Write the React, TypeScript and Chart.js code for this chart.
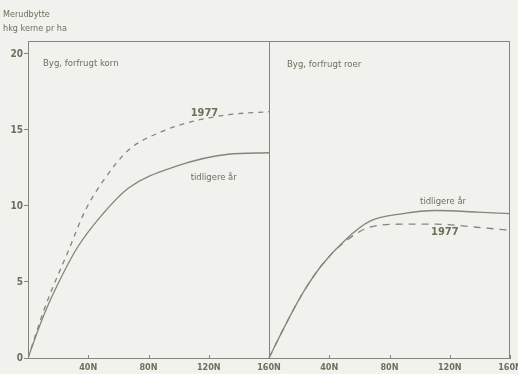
import React, { useEffect, useRef } from "react";
import { Chart, registerables } from "chart.js";

Chart.register(...registerables);

// Nitrogen levels (kg N / ha) and yield increase (hkg grain / ha)
const leftPriorN = [0, 10, 20, 33, 49, 67, 98, 133, 160];
const leftPriorY = [0, 2.7, 4.9, 7.3, 9.4, 11.2, 12.6, 13.4, 13.5];
const left1977N = [0, 11.5, 27, 38, 51, 67, 89, 107, 133, 160];
const left1977Y = [0, 3.4, 7.1, 9.7, 11.8, 13.7, 14.9, 15.5, 16.0, 16.2];
const rightPriorN = [0, 9, 22, 35, 51, 67, 89, 111, 138, 160];
const rightPriorY = [0, 1.8, 4.2, 6.1, 7.8, 9.0, 9.5, 9.7, 9.6, 9.5];
const right1977N = [0, 9, 22, 35, 51, 67, 89, 111, 138, 160];
const right1977Y = [0, 1.8, 4.2, 6.1, 7.7, 8.6, 8.8, 8.8, 8.6, 8.4];

const xTickValues = [40, 80, 120, 160, 200, 240, 280, 320];
const xTickLabels = ["40N", "80N", "120N", "160N", "40N", "80N", "120N", "160N"];
const yTickValues = [0, 5, 10, 15, 20];
const panelTitles = ["Byg, forfrugt korn", "Byg, forfrugt roer"];
const yTitle = ["Merudbytte", "hkg kerne pr ha"];
const seriesNames = ["tidligere år", "1977"];

const PANEL_WIDTH = 160;
const Y_MAX = 20.85;
const INK = "#6f6f5c";
const LINE = "#85857a";
const FONT = "'DejaVu Sans Condensed', 'DejaVu Sans', sans-serif";

const toPoints = (ns: number[], ys: number[], offset: number) =>
  ns.map((n, i) => ({ x: n + offset, y: ys[i] }));

const framePlugin = {
  id: "frame",
  afterDraw(chart: any) {
    const { ctx, chartArea, scales } = chart;
    const { left, right, top, bottom } = chartArea;
    const xs = scales.x;
    const ys = scales.y;
    ctx.save();
    ctx.strokeStyle = LINE;
    ctx.lineWidth = 1;
    ctx.beginPath();
    ctx.moveTo(left, top + 0.5);
    ctx.lineTo(right, top + 0.5);
    ctx.moveTo(right - 0.5, top);
    ctx.lineTo(right - 0.5, bottom);
    const mid = Math.round(xs.getPixelForValue(PANEL_WIDTH)) + 0.5;
    ctx.moveTo(mid, top);
    ctx.lineTo(mid, bottom);
    xTickValues.forEach((v) => {
      const px = Math.round(xs.getPixelForValue(v)) + 0.5;
      ctx.moveTo(px, bottom);
      ctx.lineTo(px, bottom - 3);
    });
    ctx.stroke();

    ctx.fillStyle = INK;
    ctx.font = `9px ${FONT}`;
    ctx.textBaseline = "middle";
    ctx.textAlign = "left";
    ctx.fillText(yTitle[0], 3, 15);
    ctx.fillText(yTitle[1], 3, 29);
    ctx.font = `9.5px ${FONT}`;
    ctx.fillText(panelTitles[0], 43, 64);
    ctx.fillText(panelTitles[1], 287, 65);

    const label = (text: string, xv: number, yv: number, bold: boolean) => {
      ctx.font = bold ? `bold 11px ${FONT}` : `9.4px ${FONT}`;
      ctx.fillText(text, xs.getPixelForValue(xv), ys.getPixelForValue(yv));
    };
    label(seriesNames[1], 108, 16.1, true);
    label(seriesNames[0], 108, 11.9, false);
    label(seriesNames[0], PANEL_WIDTH + 100.3, 10.26, false);
    label(seriesNames[1], PANEL_WIDTH + 107.6, 8.29, true);
    ctx.restore();
  },
};

export default function App() {
  const ref = useRef<HTMLCanvasElement | null>(null);

  useEffect(() => {
    document.body.style.background = "#f1f1ee";
    if (!ref.current) return;
    const common = {
      borderColor: LINE,
      borderWidth: 1.3,
      pointRadius: 0,
      fill: false,
      cubicInterpolationMode: "monotone" as const,
    };
    const chart = new Chart(ref.current, {
      type: "line",
      data: {
        datasets: [
          { ...common, label: seriesNames[0], data: toPoints(leftPriorN, leftPriorY, 0) },
          { ...common, label: seriesNames[1], data: toPoints(left1977N, left1977Y, 0), borderDash: [5, 5] },
          { ...common, label: seriesNames[0], data: toPoints(rightPriorN, rightPriorY, PANEL_WIDTH) },
          { ...common, label: seriesNames[1], data: toPoints(right1977N, right1977Y, PANEL_WIDTH), borderDash: [7, 6] },
        ],
      },
      options: {
        animation: false,
        responsive: false,
        maintainAspectRatio: false,
        layout: { padding: { top: 41, right: 8, left: 0, bottom: 0 } },
        plugins: { legend: { display: false }, tooltip: { enabled: false } },
        scales: {
          x: {
            type: "linear",
            min: 0,
            max: 2 * PANEL_WIDTH,
            afterBuildTicks: (axis: any) => {
              axis.ticks = xTickValues.map((v) => ({ value: v }));
            },
            afterFit: (axis: any) => {
              axis.height = 16;
              axis.paddingRight = 0;
              axis.paddingLeft = 0;
            },
            grid: { display: false, drawTicks: false },
            border: { display: true, color: LINE, width: 1 },
            ticks: {
              padding: 4,
              maxRotation: 0,
              autoSkip: false,
              color: INK,
              font: { size: 9, weight: "bold", family: FONT },
              callback: (v: any) => {
                const i = xTickValues.indexOf(Number(v));
                return i >= 0 ? xTickLabels[i] : "";
              },
            },
          },
          y: {
            type: "linear",
            min: 0,
            max: Y_MAX,
            afterBuildTicks: (axis: any) => {
              axis.ticks = yTickValues.map((v) => ({ value: v }));
            },
            afterFit: (axis: any) => {
              axis.width = 28;
              axis.paddingTop = 0;
              axis.paddingBottom = 0;
            },
            grid: { drawOnChartArea: false, drawTicks: true, tickLength: 4, color: LINE },
            border: { display: true, color: LINE, width: 1 },
            ticks: {
              padding: 1,
              color: INK,
              font: { size: 10, weight: "bold", family: FONT },
              callback: (v: any) => String(v),
            },
          },
        },
      },
      plugins: [framePlugin],
    });
    return () => chart.destroy();
  }, []);

  return (
    <div style={{ position: "fixed", left: 0, top: 0, width: 518, height: 374 }}>
      <canvas ref={ref} width={518} height={374} style={{ width: 518, height: 374, display: "block" }} />
    </div>
  );
}
